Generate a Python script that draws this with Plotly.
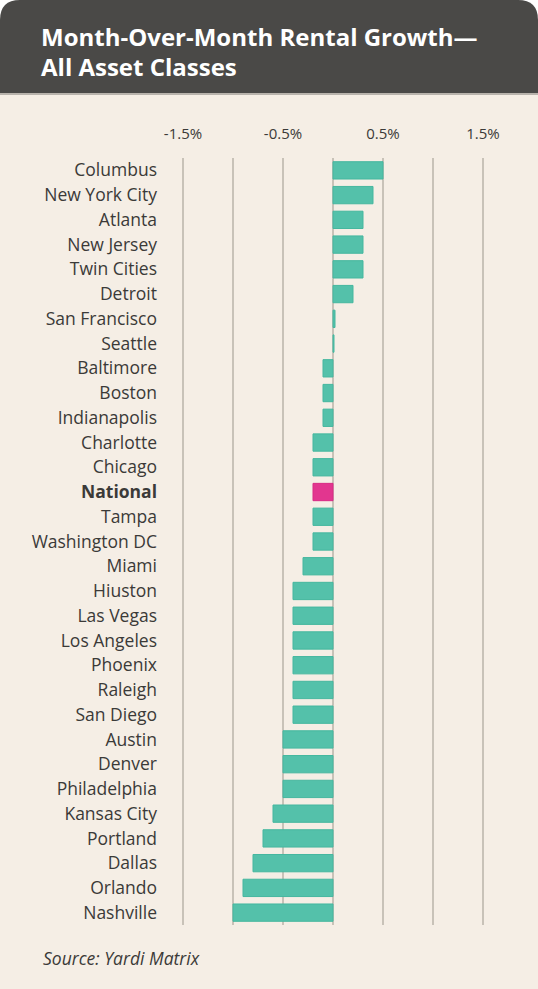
import plotly.graph_objects as go

cities = ["Columbus", "New York City", "Atlanta", "New Jersey", "Twin Cities", "Detroit",
          "San Francisco", "Seattle", "Baltimore", "Boston", "Indianapolis", "Charlotte",
          "Chicago", "National", "Tampa", "Washington DC", "Miami", "Hiuston", "Las Vegas",
          "Los Angeles", "Phoenix", "Raleigh", "San Diego", "Austin", "Denver",
          "Philadelphia", "Kansas City", "Portland", "Dallas", "Orlando", "Nashville"]
growth = [0.5, 0.4, 0.3, 0.3, 0.3, 0.2,
          0.02, 0.01, -0.1, -0.1, -0.1, -0.2,
          -0.2, -0.2, -0.2, -0.2, -0.3, -0.4, -0.4,
          -0.4, -0.4, -0.4, -0.4, -0.5, -0.5,
          -0.5, -0.6, -0.7, -0.8, -0.9, -1.0]
x_tickvals = [-1.5, -1.0, -0.5, 0, 0.5, 1.0, 1.5]
x_ticktext = ["-1.5%", "", "-0.5%", "", "0.5%", "", "1.5%"]

W, H = 538, 989
L, R, T, B = 163, 35, 158, 64
PW, PH = W - L - R, H - T - B

def px(x):
    return (x - L) / PW

def py(y):
    return (H - B - y) / PH

teal = "#54c1aa"
teal_edge = "#45b79f"
pink = "#e2368f"
colors = [pink if c == "National" else teal for c in cities]
edges = ["#d82a84" if c == "National" else teal_edge for c in cities]
labels = ["<b>National</b>" if c == "National" else c for c in cities]

fig = go.Figure(go.Bar(
    x=growth, y=cities, orientation="h",
    marker=dict(color=colors, line=dict(color=edges, width=1)),
    width=0.7, hoverinfo="skip",
))

hdr = 93
r = 20
path = (f"M {px(0)},{py(hdr)} L {px(0)},{py(r)} Q {px(0)},{py(0)} {px(r)},{py(0)} "
        f"L {px(W - r)},{py(0)} Q {px(W)},{py(0)} {px(W)},{py(r)} L {px(W)},{py(hdr)} Z")

fig.update_layout(
    width=W, height=H,
    margin=dict(l=L, r=R, t=T, b=B),
    paper_bgcolor="white",
    plot_bgcolor="rgba(0,0,0,0)",
    showlegend=False,
    bargap=0.3,
    font=dict(family="Open Sans", color="#3b3a38"),
    shapes=[
        dict(type="rect", xref="paper", yref="paper", x0=px(0), x1=px(W), y0=py(H), y1=py(hdr),
             fillcolor="#f5eee5", line=dict(width=0), layer="below"),
        dict(type="path", xref="paper", yref="paper", path=path,
             fillcolor="#4a4947", line=dict(width=0), layer="below"),
        dict(type="line", xref="paper", yref="paper", x0=px(0), x1=px(W), y0=py(hdr + 1), y1=py(hdr + 1),
             line=dict(color="#a39f98", width=1.5), layer="below"),
    ],
    annotations=[
        dict(text="<b>Month-Over-Month Rental Growth—</b>", x=px(39), y=py(36), xref="paper", yref="paper",
             xanchor="left", yanchor="middle", showarrow=False,
             font=dict(family="Open Sans", size=24, color="white")),
        dict(text="<b>All Asset Classes</b>", x=px(39), y=py(66), xref="paper", yref="paper",
             xanchor="left", yanchor="middle", showarrow=False,
             font=dict(family="Open Sans", size=24, color="white")),
        dict(text="<i>Source: Yardi Matrix</i>", x=px(41), y=py(958), xref="paper", yref="paper",
             xanchor="left", yanchor="middle", showarrow=False,
             font=dict(family="Open Sans", size=17.5, color="#3b3a38")),
    ],
    xaxis=dict(
        range=[-1.7, 1.7], side="top", tickvals=x_tickvals, ticktext=x_ticktext,
        showgrid=True, gridcolor="#c8c2b8", gridwidth=1.5, zeroline=False,
        showline=False, ticks="", ticklabelstandoff=15,
        tickfont=dict(size=15, color="#3b3a38"), fixedrange=True,
    ),
    yaxis=dict(
        autorange="reversed", tickvals=cities, ticktext=labels,
        showgrid=False, zeroline=False, showline=False, ticks="",
        ticklabelstandoff=5, tickfont=dict(size=17.5, color="#3b3a38"), fixedrange=True,
    ),
)

fig.write_html("out.html", config={"displayModeBar": False},
               post_script="document.body.style.margin='0';document.body.style.padding='0';")
